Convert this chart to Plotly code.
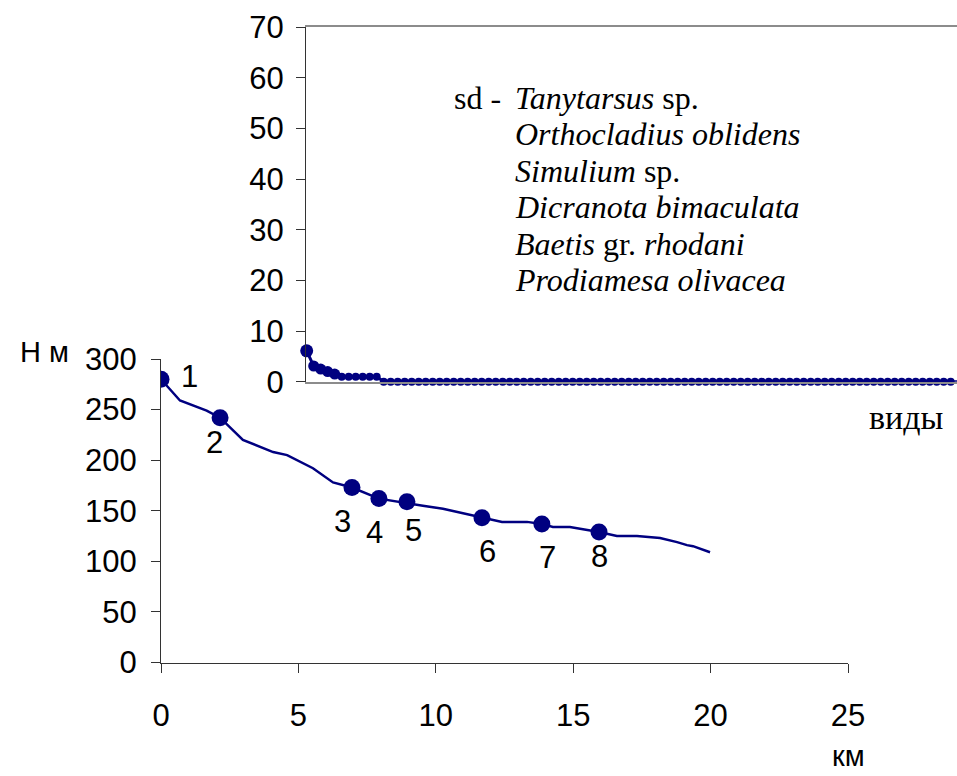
import plotly.graph_objects as go

# ---- data: river elevation profile ----
profile_km = [0, 0.69, 1.66, 2.15, 2.98, 4.08, 4.59, 5.53, 6.26, 6.95, 7.93, 8.95, 9.53,
              10.26, 11.68, 12.41, 13.32, 13.86, 14.26, 14.88, 15.94, 16.59, 17.32, 18.16,
              18.78, 19.14, 19.36, 19.98]
profile_h = [280, 259, 249, 242, 220, 208, 205, 192, 178, 173, 162, 158, 155,
             152, 143, 139, 139, 137, 134, 134, 129, 125, 125, 123,
             119, 116, 115, 109]

station_labels = ["1", "2", "3", "4", "5", "6", "7", "8"]
station_km = [0, 2.15, 6.95, 7.93, 8.95, 11.68, 13.86, 15.94]
station_h = [280, 242, 173, 162, 159, 143, 137, 129]

# ---- data: inset species distribution ----
species_vals = [6.1, 3.1, 2.5, 2.0, 1.5, 1, 1, 1, 1, 1, 1] + [0] * 83
species_idx = list(range(len(species_vals)))

species_lines = ["<i>Tanytarsus</i> sp.",
                 "<i>Orthocladius oblidens</i>",
                 "<i>Simulium</i> sp.",
                 "<i>Dicranota bimaculata</i>",
                 "<i>Baetis</i> gr. <i>rhodani</i>",
                 "<i>Prodiamesa olivacea</i>"]

main_xticks = [0, 5, 10, 15, 20, 25]
main_yticks = [0, 50, 100, 150, 200, 250, 300]
inset_yticks = [0, 10, 20, 30, 40, 50, 60, 70]

W, H = 957, 776
NAVY = "#000080"
SANS = "Liberation Sans, Arial, sans-serif"
SERIF = "Liberation Serif, Times New Roman, serif"
FS = 31

def px(x):
    return x / W

def py(y):
    return 1 - y / H

fig = go.Figure()

fig.add_trace(go.Scatter(x=profile_km, y=profile_h, mode="lines",
                         line=dict(color=NAVY, width=2.5), xaxis="x", yaxis="y",
                         hoverinfo="skip"))
fig.add_trace(go.Scatter(x=station_km, y=station_h, mode="markers",
                         marker=dict(color=NAVY, size=17, opacity=1, line=dict(width=0)),
                         xaxis="x", yaxis="y"))

inset_sizes = [13 if v >= 6 else (11 if v >= 1.5 else 8) for v in species_vals]
fig.add_trace(go.Scatter(x=species_idx, y=species_vals, mode="lines+markers",
                         line=dict(color=NAVY, width=3), cliponaxis=False,
                         marker=dict(color=NAVY, size=inset_sizes, opacity=1,
                                     line=dict(width=0)),
                         xaxis="x2", yaxis="y2"))

ax_common = dict(showgrid=False, zeroline=False, ticks="outside", ticklen=9,
                 tickwidth=1, automargin=False,
                 tickfont=dict(family=SANS, size=FS, color="black"))

layout = dict(
    width=W, height=H, margin=dict(l=0, r=0, t=0, b=0, autoexpand=False),
    paper_bgcolor="white", plot_bgcolor="rgba(0,0,0,0)", showlegend=False,
    xaxis=dict(domain=[px(161), px(848)], range=[0, 25], tickvals=main_xticks,
               showline=True, linecolor="#333333", linewidth=1, tickcolor="#333333",
               ticklabelstandoff=16, anchor="y", **ax_common),
    yaxis=dict(domain=[py(662.5), py(359)], range=[0, 300], tickvals=main_yticks,
               showline=True, linecolor="#333333", linewidth=1, tickcolor="#333333",
               ticklabelstandoff=8, anchor="x", **ax_common),
    xaxis2=dict(domain=[px(306), 1], range=[-0.1, 92.9], showticklabels=False,
                showline=True, linecolor="#8c8c8c", linewidth=2, mirror=True,
                showgrid=False, zeroline=False, ticks="", anchor="y2", automargin=False),
    yaxis2=dict(domain=[py(381.7), py(27.3)], range=[0, 70], tickvals=inset_yticks,
                showline=True, linecolor="#333333", linewidth=1, tickcolor="#333333",
                ticklabelstandoff=6, anchor="x2", **ax_common),
)
fig.update_layout(**layout)

def note(x, y, text, font, **kw):
    base = dict(x=x, y=y, text=text, showarrow=False, font=font,
                xanchor="center", yanchor="middle")
    base.update(kw)
    fig.add_annotation(**base)

sans_font = dict(family=SANS, size=FS, color="black")
serif_font = dict(family=SERIF, size=32, color="black")

# station labels
label_shift = [(28, 3), (-6, -25), (-9, -34), (-4, -34), (7, -29), (6, -34), (6, -34), (0, -25)]
for lab, xk, yh, (dx, dy) in zip(station_labels, station_km, station_h, label_shift):
    note(xk, yh, lab, sans_font, xref="x", yref="y", xshift=dx, yshift=dy)

# axis titles
note(px(44), py(352), "Н м", dict(family=SANS, size=29, color="black"),
     xref="paper", yref="paper")
note(px(848), py(756), "км", dict(family=SANS, size=29, color="black"),
     xref="paper", yref="paper")
note(px(906), py(417), "виды", dict(family=SERIF, size=34, color="black"),
     xref="paper", yref="paper")

# species list
line_y0, line_step = 98, 36.4
note(px(503), py(line_y0), "sd -", serif_font, xref="paper", yref="paper", xanchor="right")
for i, t in enumerate(species_lines):
    note(px(513), py(line_y0 + i * line_step), t, serif_font,
         xref="paper", yref="paper", xanchor="left")

fig.write_html("out.html")
